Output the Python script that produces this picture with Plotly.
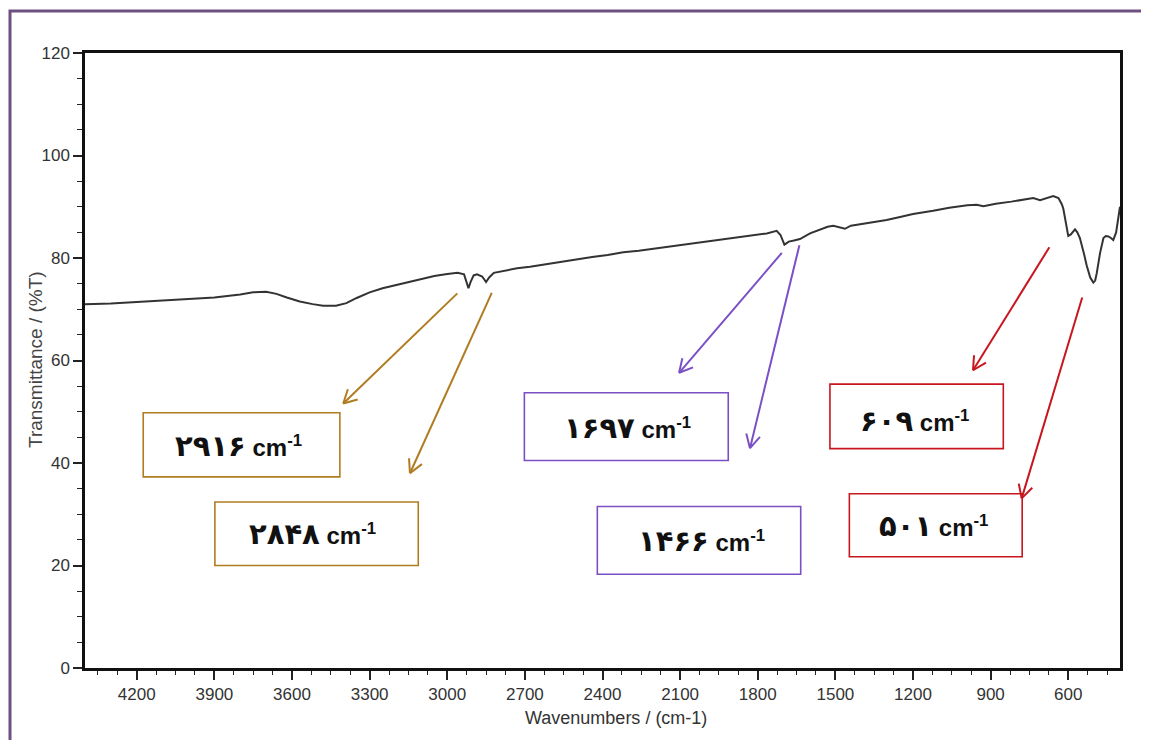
import math
import plotly.graph_objects as go

# ---------------- data ----------------
wavenumber = [4400, 4300, 4200, 4100, 4000, 3900, 3800, 3750, 3700, 3660, 3620, 3570, 3520, 3480,
              3430, 3390, 3350, 3300, 3250, 3200, 3150, 3100, 3050, 3000, 2960, 2935, 2925, 2918,
              2910, 2898, 2885, 2865, 2850, 2838, 2820, 2780, 2730, 2680, 2620, 2560, 2500, 2440,
              2380, 2320, 2260, 2200, 2140, 2080, 2023, 1960, 1894, 1830, 1765, 1727, 1712, 1697,
              1680, 1660, 1637, 1598, 1560, 1530, 1508, 1480, 1463, 1440, 1400, 1379, 1340, 1302,
              1250, 1200, 1122, 1060, 990, 954, 928, 880, 820, 760, 735, 709, 680, 658, 638, 625,
              619, 612, 606, 600, 590, 574, 565, 555, 540, 529, 515, 503, 496, 490, 477, 464, 455,
              445, 435, 426, 415, 407, 400]
transmittance = [71.0, 71.1, 71.4, 71.7, 72.0, 72.3, 72.9, 73.3, 73.4, 73.0, 72.3, 71.5, 71.0, 70.7,
                 70.7, 71.2, 72.2, 73.3, 74.1, 74.7, 75.3, 75.9, 76.5, 76.9, 77.1, 76.8, 75.2, 74.1,
                 75.3, 76.6, 76.8, 76.4, 75.3, 76.2, 77.1, 77.5, 78.0, 78.3, 78.8, 79.3, 79.7, 80.2,
                 80.6, 81.1, 81.4, 81.8, 82.2, 82.6, 83.1, 83.5, 83.9, 84.3, 84.8, 85.3, 84.5, 82.6,
                 83.2, 83.4, 83.7, 84.8, 85.6, 86.1, 86.3, 86.0, 85.7, 86.3, 86.6, 86.7, 87.0, 87.4,
                 88.0, 88.6, 89.2, 89.8, 90.3, 90.4, 90.1, 90.6, 91.0, 91.4, 91.7, 91.3, 91.8, 92.1,
                 91.7, 90.5, 89.6, 87.8, 86.0, 84.3, 84.6, 85.6, 85.0, 83.9, 81.0, 78.6, 76.2, 75.2,
                 75.6, 77.0, 81.0, 83.9, 84.3, 84.2, 83.9, 83.5, 85.0, 87.4, 90.0]

peak_labels = ["۲۹۱۶", "۲۸۴۸", "۱۶۹۷", "۱۴۶۶", "۶۰۹", "۵۰۱"]
x_ticks = [4200, 3900, 3600, 3300, 3000, 2700, 2400, 2100, 1800, 1500, 1200, 900, 600]
y_ticks = [0, 20, 40, 60, 80, 100, 120]

# ---------------- layout geometry ----------------
OFF = 8                      # default page (body) margin
W, H = 1141, 732
ML, MT = 77, 45
PW, PH = 1035, 615
MR, MB = W - ML - PW, H - MT - PH
XR = [4400, 400]
YR = [0, 120]
SX0, SY0 = ML + OFF, MT + OFF  # screen position of plot-area corner

def to_px(wn, t):
    return SX0 + (XR[0] - wn) / (XR[0] - XR[1]) * PW, SY0 + PH - (t - YR[0]) / (YR[1] - YR[0]) * PH

def to_data(px, py):
    return XR[0] - (px - SX0) / PW * (XR[0] - XR[1]), YR[0] + (SY0 + PH - py) / PH * (YR[1] - YR[0])

def paper_x(px):
    return (px - SX0) / PW

def paper_y(py):
    return (SY0 + PH - py) / PH

BROWN = "#b07c22"
PURPLE = "#7a50c4"
RED = "#c8161e"

# boxes: (label, colour, wn_left, wn_right, t_top, t_bottom, text_wn, text_t)
boxes = [
    (peak_labels[0], BROWN, 4175, 3415, 49.8, 37.3, 3805, 43.3),
    (peak_labels[1], BROWN, 3898, 3112, 32.4, 20.0, 3519, 26.1),
    (peak_labels[2], PURPLE, 2702, 1914, 53.7, 40.5, 2305, 46.8),
    (peak_labels[3], PURPLE, 2420, 1634, 31.5, 18.3, 2019, 24.8),
    (peak_labels[4], RED, 1521, 851, 55.4, 42.8, 1196, 48.2),
    (peak_labels[5], RED, 1446, 778, 34.0, 21.7, 1119, 27.7),
]
# arrows: (tail_wn, tail_t, tip_wn, tip_t, colour)
arrows = [
    (2961, 73.1, 3402, 51.6, BROWN),
    (2828, 73.2, 3144, 38.0, BROWN),
    (1707, 81.0, 2104, 57.6, PURPLE),
    (1639, 82.5, 1830, 42.9, PURPLE),
    (673, 82.1, 968, 58.1, RED),
    (546, 72.3, 780, 33.1, RED),
]

fig = go.Figure()
fig.add_trace(go.Scatter(x=wavenumber, y=transmittance, mode="lines",
                         line=dict(color="#333333", width=2), hoverinfo="skip",
                         showlegend=False))

shapes = []
annotations = []

for lab, col, x0, x1, y0, y1, tx, ty in boxes:
    shapes.append(dict(type="rect", xref="x", yref="y", x0=x0, x1=x1, y0=y0, y1=y1,
                       line=dict(color=col, width=1.6), fillcolor="rgba(0,0,0,0)", layer="above"))
    annotations.append(dict(x=tx, y=ty, xref="x", yref="y", showarrow=False,
                            xanchor="center", yanchor="middle",
                            text=f"<b><span style='font-size:29px'>{lab}</span> cm<sup>-1</sup></b>",
                            font=dict(family="Arial, Liberation Sans, DejaVu Sans", size=24, color="#111111")))

HEAD = 15
ANG = math.radians(28)
for tw, tt, pw, pt, col in arrows:
    shapes.append(dict(type="line", xref="x", yref="y", x0=tw, y0=tt, x1=pw, y1=pt,
                       line=dict(color=col, width=2), layer="above"))
    ax, ay = to_px(tw, tt)
    bx, by = to_px(pw, pt)
    dx, dy = ax - bx, ay - by
    n = math.hypot(dx, dy)
    ux, uy = dx / n, dy / n
    for s in (1, -1):
        c, sn = math.cos(s * ANG), math.sin(s * ANG)
        rx, ry = ux * c - uy * sn, ux * sn + uy * c
        hx, hy = to_data(bx + rx * HEAD, by + ry * HEAD)
        shapes.append(dict(type="line", xref="x", yref="y", x0=pw, y0=pt, x1=hx, y1=hy,
                           line=dict(color=col, width=2), layer="above"))

# outer purple frame
shapes.append(dict(type="rect", xref="paper", yref="paper",
                   x0=paper_x(10), x1=paper_x(1146),
                   y0=paper_y(770), y1=paper_y(11),
                   line=dict(color="#6e5080", width=3), fillcolor="rgba(0,0,0,0)", layer="above"))

# axis titles
annotations.append(dict(xref="paper", yref="paper", x=paper_x(616), y=paper_y(718),
                        xanchor="center", yanchor="middle",
                        text="Wavenumbers / (cm-1)", showarrow=False,
                        font=dict(family="Liberation Sans, Arial", size=18, color="#333333")))
annotations.append(dict(xref="paper", yref="paper", x=paper_x(35), y=paper_y(360), textangle=-90,
                        xanchor="center", yanchor="middle",
                        text="Transmittance / (%T)", showarrow=False,
                        font=dict(family="Liberation Sans, Arial", size=19, color="#444444")))

tickfont = dict(family="Liberation Sans, Arial", size=17, color="#333333")

fig.update_layout(
    width=W, height=H,
    margin=dict(l=ML, r=MR, t=MT, b=MB, pad=0),
    paper_bgcolor="white", plot_bgcolor="white",
    shapes=shapes, annotations=annotations,
    xaxis=dict(range=XR, tickvals=x_ticks, ticktext=[str(v) for v in x_ticks],
               showgrid=False, zeroline=False, showline=True, mirror=True,
               linecolor="#111111", linewidth=2.5, ticks="outside", ticklen=9, tickwidth=1.5,
               tickcolor="#222222", tickfont=tickfont, automargin=False,
               minor=dict(dtick=75, tick0=0, ticks="outside", ticklen=4, tickwidth=1.2,
                          tickcolor="#222222", showgrid=False)),
    yaxis=dict(range=YR, tickvals=y_ticks, ticktext=[str(v) for v in y_ticks],
               showgrid=False, zeroline=False, showline=True, mirror=True,
               linecolor="#111111", linewidth=2.5, ticks="outside", ticklen=9, tickwidth=1.5,
               tickcolor="#222222", tickfont=tickfont, automargin=False,
               minor=dict(dtick=5, tick0=0, ticks="outside", ticklen=5, tickwidth=1.2,
                          tickcolor="#222222", showgrid=False)),
)

fig.write_html("out.html")
